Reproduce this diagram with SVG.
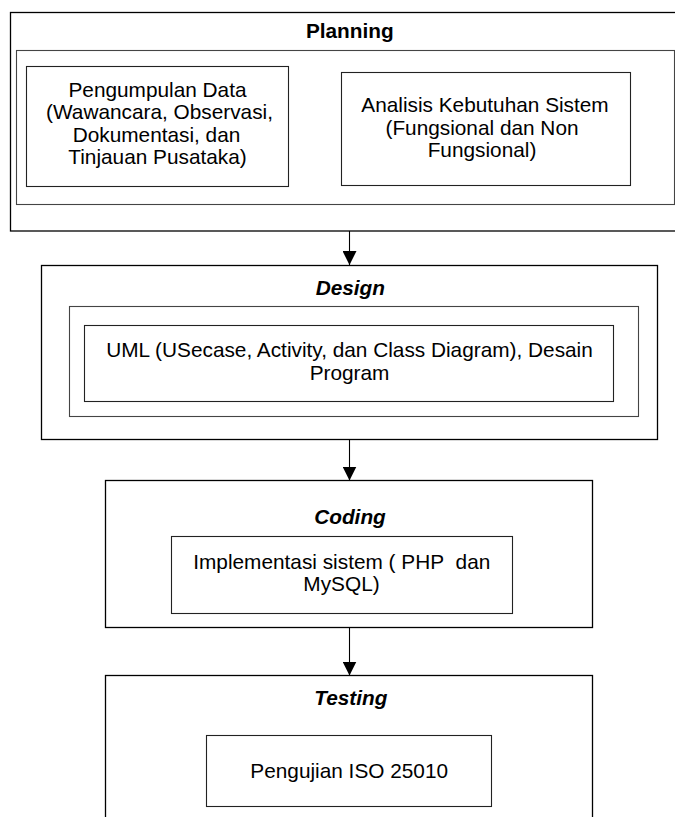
<svg xmlns="http://www.w3.org/2000/svg" width="675" height="817" viewBox="0 0 675 817">
  <style>
    .frame { fill: #ffffff; stroke: #000000; stroke-width: 1.3; }
    .panel { fill: #ffffff; stroke: #444444; stroke-width: 1.1; }
    .item  { fill: #ffffff; stroke: #222222; stroke-width: 1.1; }
    text { font-family: "Liberation Sans", Arial, sans-serif; font-size: 20.8px; fill: #000000; text-anchor: middle; }
    .title { font-weight: bold; }
    .ital { font-weight: bold; font-style: italic; }
    .link { stroke: #000000; stroke-width: 1.1; fill: none; }
  </style>
  <defs>
    <marker id="arrowhead" markerUnits="userSpaceOnUse" viewBox="0 0 14 14" refX="14" refY="7" markerWidth="14" markerHeight="14" orient="auto">
      <path d="M0,0 L14,7 L0,14 Z" fill="#000000"/>
    </marker>
  </defs>

  <rect width="675" height="817" fill="#ffffff"/>

  <!-- Planning stage -->
  <g id="planning">
    <rect class="frame" x="10.5" y="12.5" width="670" height="218.5"/>
    <text class="title" x="349.8" y="37.5">Planning</text>
    <rect class="panel" x="16.5" y="50.5" width="658" height="154"/>
  </g>
  <g id="pengumpulan-data">
    <rect class="item" x="26.5" y="66.5" width="262" height="120"/>
    <text x="157.5" y="96.5">Pengumpulan Data</text>
    <text x="159.5" y="119">(Wawancara, Observasi,</text>
    <text x="156.5" y="141.5">Dokumentasi, dan</text>
    <text x="157.5" y="164">Tinjauan Pusataka)</text>
  </g>
  <g id="analisis-kebutuhan">
    <rect class="item" x="341.5" y="72.5" width="289" height="113"/>
    <text x="485" y="112">Analisis Kebutuhan Sistem</text>
    <text x="482" y="134.5">(Fungsional dan Non</text>
    <text x="482" y="157">Fungsional)</text>
  </g>

  <!-- Design stage -->
  <g id="design">
    <rect class="frame" x="41.5" y="265.5" width="616" height="174"/>
    <text class="ital" x="350.3" y="294.5">Design</text>
    <rect class="panel" x="69.5" y="306.5" width="569" height="110"/>
  </g>
  <g id="uml">
    <rect class="item" x="84.5" y="325.5" width="529" height="76"/>
    <text x="349.5" y="357">UML (USecase, Activity, dan Class Diagram), Desain</text>
    <text x="349.5" y="379.5">Program</text>
  </g>

  <!-- Coding stage -->
  <g id="coding">
    <rect class="frame" x="105.5" y="480.5" width="487" height="147"/>
    <text class="ital" x="350" y="523.5">Coding</text>
  </g>
  <g id="implementasi">
    <rect class="item" x="171.5" y="536.5" width="341" height="77"/>
    <text x="341.8" y="568.5">Implementasi sistem ( PHP&#160; dan</text>
    <text x="341.5" y="591">MySQL)</text>
  </g>

  <!-- Testing stage -->
  <g id="testing">
    <rect class="frame" x="105.5" y="675.5" width="487" height="150"/>
    <text class="ital" x="350.8" y="705">Testing</text>
  </g>
  <g id="pengujian">
    <rect class="item" x="206.5" y="735.5" width="285" height="71"/>
    <text x="349.2" y="778">Pengujian ISO 25010</text>
  </g>

  <!-- Flow between stages -->
  <g id="connectors">
    <line class="link" x1="349.5" y1="231" x2="349.5" y2="265" marker-end="url(#arrowhead)"/>
    <line class="link" x1="349.5" y1="439.5" x2="349.5" y2="480.5" marker-end="url(#arrowhead)"/>
    <line class="link" x1="349.5" y1="627.5" x2="349.5" y2="675.5" marker-end="url(#arrowhead)"/>
  </g>
</svg>
